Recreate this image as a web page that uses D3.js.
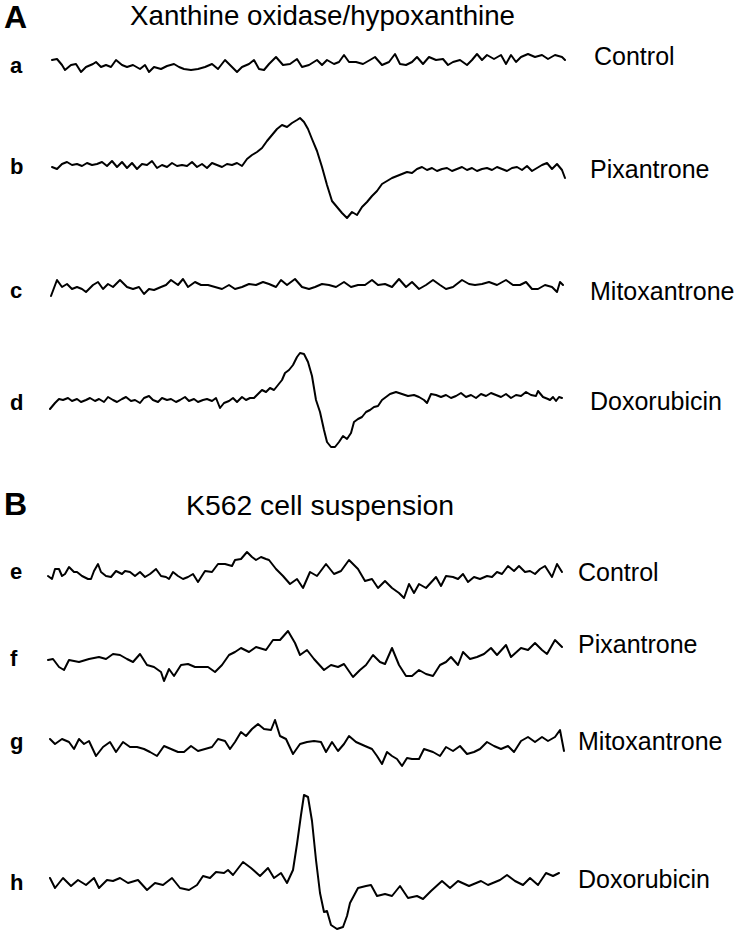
<!DOCTYPE html>
<html><head><meta charset="utf-8">
<script src="https://cdn.jsdelivr.net/npm/d3@7/dist/d3.min.js"></script>
<style>
html,body{margin:0;padding:0;background:#fff;}
svg text{font-family:"Liberation Sans",Arial,Helvetica,sans-serif;fill:#000;}
</style></head>
<body><svg id="c" width="738" height="935"></svg>
<script>
// Panel titles and row labels
const panelTitles = ["Xanthine oxidase/hypoxanthine", "K562 cell suspension"];
const panelLetters = ["A", "B"];
const rowLetters = ["a","b","c","d","e","f","g","h"];
const drugNames = ["Control","Pixantrone","Mitoxantrone","Doxorubicin","Control","Pixantrone","Mitoxantrone","Doxorubicin"];

// EPR spectra: [field (arb. units), signal intensity (arb. units)]
const specA_control = [[2,2],[7,3],[12,-3],[15,-8],[21,-3],[26,-2],[31,-10],[36,-5],[43,-2],[46,0],[51,-5],[56,-3],[61,-5],[66,2],[72,-3],[77,-5],[83,-3],[90,-7],[95,-3],[99,-10],[104,-5],[111,-7],[117,-4],[124,-2],[129,-5],[134,-7],[141,-8],[148,-7],[155,-5],[162,-2],[168,-7],[175,2],[180,-3],[187,-10],[192,-5],[199,-2],[204,2],[209,-7],[214,-8],[219,-2],[226,5],[233,-3],[240,-2],[247,3],[252,-5],[259,-3],[267,2],[272,-3],[277,2],[284,-2],[289,0],[294,7],[299,0],[306,0],[313,-2],[320,2],[325,5],[332,-3],[339,0],[345,8],[350,-2],[356,-3],[362,0],[367,5],[373,-2],[379,5],[386,2],[393,3],[398,-3],[403,0],[410,2],[417,-3],[422,2],[427,8],[432,2],[437,7],[444,3],[451,7],[456,-2],[461,7],[466,0],[471,5],[478,8],[485,5],[492,7],[498,3],[505,7],[512,5],[515,2]];
const specA_pixantrone = [[2,-2],[7,-4],[12,1],[17,3],[22,0],[27,1],[32,-1],[37,2],[42,0],[47,1],[52,3],[57,-1],[62,4],[67,-2],[72,3],[77,-3],[82,2],[87,-4],[92,1],[97,0],[102,4],[107,-3],[112,0],[117,-2],[122,2],[127,-1],[132,0],[137,-1],[142,3],[147,-2],[152,1],[157,-3],[162,2],[167,0],[172,-2],[177,1],[182,0],[187,2],[192,-1],[197,6],[202,10],[207,13],[212,17],[217,24],[222,30],[227,36],[232,40],[237,38],[242,42],[247,45],[250,47],[254,43],[258,36],[262,26],[267,14],[272,-2],[277,-20],[282,-36],[287,-42],[292,-48],[297,-53],[302,-47],[307,-50],[312,-42],[317,-37],[322,-31],[327,-26],[332,-19],[337,-16],[342,-13],[347,-11],[352,-9],[357,-7],[362,-8],[367,-4],[372,-2],[377,-5],[382,-3],[387,-6],[392,-4],[397,-3],[402,-6],[407,-4],[412,-2],[417,-5],[422,-3],[427,-6],[432,-4],[437,-3],[442,-5],[447,-2],[452,-4],[457,-6],[462,-3],[467,-2],[472,-5],[477,-1],[482,-6],[487,-3],[492,0],[497,2],[502,-4],[507,1],[512,-5],[515,-13]];
const specA_mitoxantrone = [[1,-9],[7,7],[12,0],[17,3],[22,-2],[27,0],[32,-2],[36,-5],[43,2],[48,5],[53,-2],[58,3],[63,0],[70,7],[77,0],[83,-2],[89,0],[94,-7],[99,-2],[104,-3],[111,0],[116,2],[121,7],[128,2],[133,8],[138,0],[145,5],[151,2],[158,2],[165,0],[172,-2],[179,2],[185,-2],[192,0],[199,3],[206,2],[213,5],[219,3],[226,0],[231,7],[237,2],[245,8],[252,0],[259,-2],[265,0],[272,3],[279,2],[286,0],[294,5],[301,0],[308,2],[315,2],[322,7],[328,2],[335,3],[342,0],[349,8],[356,0],[362,5],[369,-2],[376,2],[383,7],[390,2],[396,-2],[403,0],[412,7],[419,3],[425,2],[432,3],[439,5],[447,2],[456,7],[463,2],[470,2],[476,5],[482,-2],[488,-2],[495,2],[502,0],[507,-5],[510,5],[513,2]];
const specA_doxorubicin = [[0,-9],[5,-3],[9,1],[13,0],[18,2],[22,-1],[27,1],[31,-2],[36,0],[40,2],[45,-1],[49,1],[54,-2],[58,3],[63,0],[67,-2],[72,1],[76,3],[81,-1],[85,0],[90,-3],[94,2],[99,4],[103,0],[108,-2],[112,2],[117,0],[121,1],[126,-2],[130,0],[135,3],[139,-1],[144,1],[148,-2],[153,0],[157,1],[162,-1],[166,2],[170,-8],[174,-3],[179,-1],[183,2],[187,-2],[192,3],[196,0],[200,2],[204,2],[208,6],[212,10],[216,8],[220,12],[224,10],[228,15],[232,20],[235,27],[239,30],[243,35],[247,43],[250,47],[254,46],[258,38],[262,24],[266,0],[270,-12],[274,-30],[277,-42],[281,-47],[285,-47],[289,-42],[293,-36],[297,-39],[301,-33],[304,-22],[308,-19],[312,-17],[316,-12],[320,-10],[324,-7],[328,-6],[332,0],[336,3],[340,6],[346,8],[352,6],[358,4],[364,5],[369,3],[374,0],[377,-3],[381,6],[386,5],[391,3],[396,5],[401,2],[406,4],[411,7],[416,3],[421,5],[426,2],[431,6],[436,4],[441,7],[446,5],[451,3],[456,6],[461,2],[466,5],[471,4],[476,8],[481,5],[486,4],[488,9],[493,3],[498,1],[500,0],[503,3],[506,-1],[509,3],[512,2]];
const specB_control = [[-2,-2],[2,-5],[5,5],[9,5],[12,-2],[15,0],[19,7],[24,2],[27,2],[32,-2],[38,-5],[41,-5],[44,3],[48,10],[51,2],[56,-2],[61,-3],[66,3],[72,0],[75,3],[80,2],[85,-2],[90,2],[95,-3],[100,0],[106,5],[111,-2],[116,-3],[119,-5],[123,2],[128,-2],[133,-5],[138,-3],[143,0],[148,-8],[155,3],[162,2],[168,10],[175,10],[182,8],[185,14],[191,15],[197,22],[202,17],[206,14],[211,17],[216,15],[219,14],[226,5],[233,-2],[240,-10],[247,-5],[253,-14],[260,2],[267,-2],[276,10],[284,0],[291,3],[299,14],[308,5],[315,-7],[322,-5],[328,-14],[335,-7],[342,-14],[349,-19],[354,-24],[359,-10],[364,-19],[369,-10],[376,-14],[386,-3],[391,-12],[396,-2],[403,-3],[408,-5],[413,0],[418,-8],[424,-3],[430,-5],[437,-2],[442,-3],[447,2],[452,0],[458,8],[464,3],[469,8],[475,2],[480,3],[485,0],[490,5],[495,8],[502,-3],[507,10],[512,2]];
const specB_pixantrone = [[-2,2],[3,3],[9,-5],[14,-8],[19,2],[29,0],[39,3],[49,5],[56,3],[63,8],[70,7],[77,3],[83,0],[90,8],[97,-3],[104,-5],[111,-10],[114,-19],[119,-7],[124,-14],[131,-3],[138,-2],[145,-5],[151,-5],[158,-5],[165,-10],[172,-3],[179,7],[185,10],[191,14],[199,10],[206,15],[216,12],[223,22],[230,22],[238,31],[245,19],[250,7],[257,12],[264,3],[274,-8],[281,-3],[288,-5],[294,-2],[303,-15],[310,-8],[316,-3],[323,7],[330,0],[335,-2],[342,14],[349,-3],[356,-14],[362,-14],[369,-8],[376,-12],[383,-14],[390,-3],[396,0],[401,5],[408,-3],[413,10],[420,3],[427,5],[434,8],[441,14],[447,7],[456,17],[461,5],[471,14],[478,12],[485,19],[492,12],[497,8],[505,22],[512,15]];
const specB_mitoxantrone = [[0,5],[5,0],[12,5],[19,2],[24,-5],[29,5],[34,0],[39,3],[46,-12],[53,-3],[60,2],[66,-8],[73,2],[80,-3],[87,-3],[94,-5],[100,-8],[107,-12],[114,-2],[121,-5],[128,-8],[134,-8],[141,-2],[148,-7],[155,-5],[162,-3],[168,5],[175,3],[180,-5],[185,2],[191,12],[196,8],[202,15],[208,20],[214,15],[221,14],[225,24],[230,8],[236,5],[243,-10],[250,0],[257,2],[264,3],[271,2],[276,-8],[282,2],[288,-7],[294,0],[299,8],[306,2],[315,-2],[322,-5],[327,-12],[332,-20],[337,-8],[342,-12],[347,-15],[352,-22],[357,-14],[362,-15],[369,-15],[374,-5],[383,-8],[390,-12],[396,-3],[403,-7],[410,-2],[417,-10],[424,-8],[430,-5],[437,2],[444,-2],[451,-5],[458,-2],[464,-8],[471,3],[478,7],[485,2],[492,7],[498,3],[505,7],[510,14],[514,-7]];
const specB_doxorubicin = [[0,5],[5,-5],[13,5],[21,-3],[28,3],[36,-2],[44,5],[49,-5],[57,3],[63,2],[70,5],[78,0],[88,3],[97,-7],[105,0],[113,-2],[122,5],[130,-5],[139,-7],[147,-2],[153,7],[160,5],[166,11],[174,10],[178,13],[183,8],[193,21],[201,15],[210,7],[218,15],[224,5],[231,10],[237,0],[243,13],[247,39],[251,68],[254,88],[258,86],[262,62],[266,23],[270,-10],[274,-29],[277,-28],[281,-42],[287,-46],[293,-44],[297,-33],[300,-20],[308,-5],[316,-3],[321,-2],[327,-13],[335,-11],[342,-13],[350,-3],[358,-15],[367,-13],[373,-16],[381,-8],[392,2],[400,-5],[408,2],[419,-3],[431,2],[438,-2],[450,3],[457,8],[465,2],[473,-2],[480,5],[488,-2],[496,10],[503,7],[509,10]];

const spectra = [specA_control, specA_pixantrone, specA_mitoxantrone, specA_doxorubicin,
                 specB_control, specB_pixantrone, specB_mitoxantrone, specB_doxorubicin];

// ---------- layout ----------
const baselines = [62, 165, 287, 400, 574, 662, 744, 883];
const rowLabelY = [73, 174, 298, 410, 579, 666, 749, 890];
const nameX = [594, 590, 590, 590, 578, 578, 578, 578];
const nameY = [65, 178, 300, 410, 581, 653, 750, 888];

const svg = d3.select("#c");
const x = d3.scaleLinear().domain([0, 520]).range([50, 570]);
const amp = d3.scaleLinear().domain([-1, 1]).range([1, -1]); // intensity -> pixel offset (up is positive)

const line = d3.line()
  .x(d => x(d[0]))
  .y(d => amp(d[1]))
  .curve(d3.curveLinear);

spectra.forEach((s, i) => {
  const g = svg.append("g").attr("transform", `translate(0,${baselines[i]})`);
  g.append("path").datum(s)
    .attr("d", line)
    .attr("fill", "none")
    .attr("stroke", "#000")
    .attr("stroke-width", 2)
    .attr("stroke-linejoin", "round")
    .attr("stroke-linecap", "round");
});

// row letters
rowLetters.forEach((l, i) => {
  svg.append("text").attr("x", 10).attr("y", rowLabelY[i])
    .attr("font-size", 22).attr("font-weight", "bold").text(l);
});
// drug names
drugNames.forEach((n, i) => {
  svg.append("text").attr("x", nameX[i]).attr("y", nameY[i])
    .attr("font-size", 25).text(n);
});
// panel letters & titles
const letterY = [28, 515];
const titleY = [25, 515];
const titleX = [130, 186];
const titleW = [385, 268];
panelLetters.forEach((p, i) => {
  svg.append("text").attr("x", 4).attr("y", letterY[i])
    .attr("font-size", 32).attr("font-weight", "bold").text(p);
  svg.append("text").attr("x", titleX[i]).attr("y", titleY[i])
    .attr("font-size", 27.5)
    .attr("textLength", titleW[i]).attr("lengthAdjust", "spacingAndGlyphs")
    .text(panelTitles[i]);
});
</script></body></html>
